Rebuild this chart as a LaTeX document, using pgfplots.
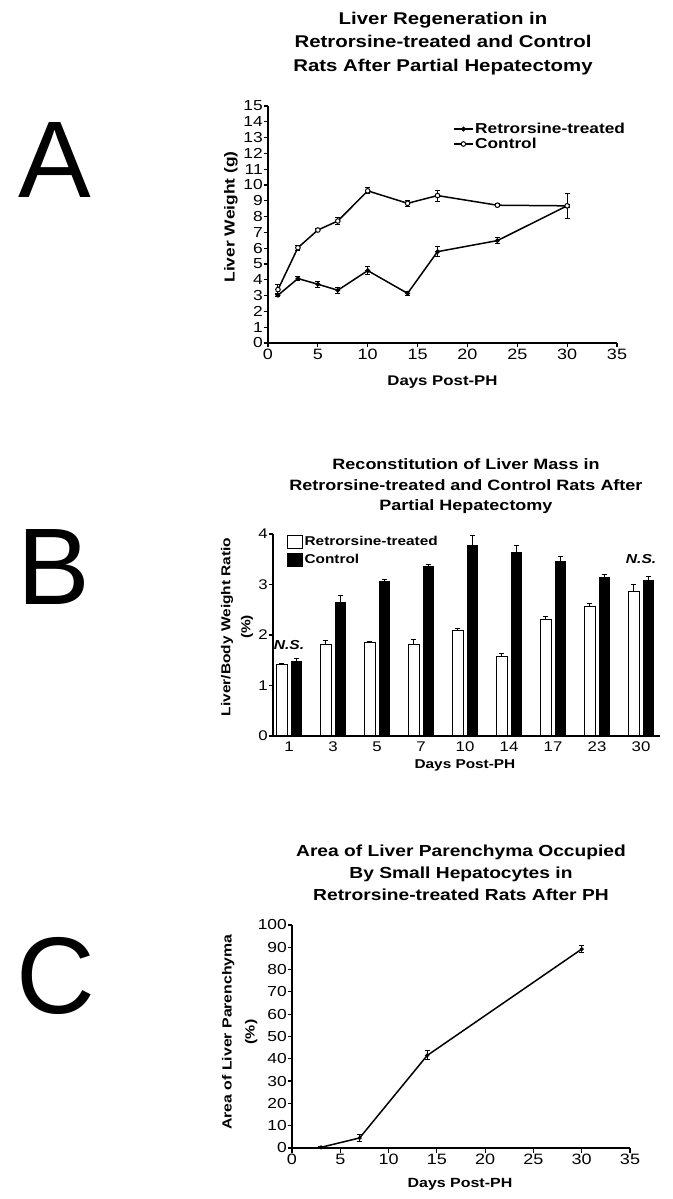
\documentclass[border=0pt]{standalone}
\usepackage{fontspec}
\setmainfont{Liberation Sans}[FakeStretch=1.2]
\newfontfamily\letterfont{Liberation Sans}
\usepackage{pgfplots}
\usepackage{pgfplotstable}
\pgfplotsset{compat=1.18}

\newcommand\fs[2][]{\fontsize{#2}{#2}\selectfont}

\pgfplotstableread{
x y e
1 3.02 0.10
3 4.08 0.10
5 3.72 0.20
7 3.34 0.20
10 4.58 0.25
14 3.14 0.15
17 5.78 0.30
23 6.48 0.20
30 8.68 0.80
}\retA
\pgfplotstableread{
x y e
1 3.38 0.30
3 6.03 0.15
5 7.15 0.08
7 7.72 0.20
10 9.63 0.20
14 8.84 0.20
17 9.33 0.35
23 8.72 0.10
30 8.68 0.10
}\conA
\pgfplotstableread{
x r re c ce
0 1.41 0.02 1.47 0.07
1 1.82 0.07 2.65 0.13
2 1.85 0.03 3.05 0.05
3 1.81 0.10 3.35 0.04
4 2.09 0.03 3.77 0.20
5 1.57 0.06 3.64 0.14
6 2.30 0.07 3.45 0.10
7 2.56 0.07 3.14 0.05
8 2.87 0.12 3.08 0.08
}\datB
\pgfplotstableread{
x y e
3 0.3 0.5
7 4.5 1.5
14 41.5 2.0
30 89.2 1.5
}\datC

\pgfplotsset{panel/.style={
  scale only axis, anchor=south west,
  axis lines=left, axis line style={-, line width=1.8pt},
  tick align=outside, major tick length=4.5pt,
  tick style={line width=1.2pt, black},
  /pgf/number format/assume math mode=true,
  xticklabel style={font=\fs{15}, inner sep=1pt},
  yticklabel style={font=\fs{14.5}, inner sep=0.5pt},
  clip=false,
  error bars/error bar style={line width=1pt},
  error bars/error mark options={rotate=90, line width=1pt, mark size=2.5pt},
}}

\begin{document}
\begin{tikzpicture}[x=1pt,y=1pt]
\useasboundingbox (0pt,0pt) rectangle (672pt,1199pt);
% panel letters
\node[font=\letterfont\fontsize{109}{109}\selectfont, inner sep=0pt] at (54.5pt,1039pt) {A};
\node[font=\letterfont\fontsize{109}{109}\selectfont, inner sep=0pt] at (54pt,632pt) {B};
\node[font=\letterfont\fontsize{109}{109}\selectfont, inner sep=0pt] at (56pt,223pt) {C};
% titles
\node[font=\bfseries\fontsize{17}{23.5}\selectfont, align=center] at (443pt,1155.5pt)
  {Liver Regeneration in\\Retrorsine-treated and Control\\Rats After Partial Hepatectomy};
\node[font=\bfseries\fontsize{15}{20.5}\selectfont, align=center] at (466pt,712.5pt)
  {Reconstitution of Liver Mass in\\Retrorsine-treated and Control Rats After\\Partial Hepatectomy};
\node[font=\bfseries\fontsize{16}{22}\selectfont, align=center] at (461pt,326.5pt)
  {Area of Liver Parenchyma Occupied\\By Small Hepatocytes in\\Retrorsine-treated Rats After PH};

% ---------- Panel A ----------
\begin{axis}[panel, at={(268pt,856pt)}, width=349pt, height=237pt,
  xmin=0, xmax=35, ymin=0, ymax=15,
  xtick={0,5,...,35}, ytick={0,1,...,15},
  xlabel={Days Post-PH}, ylabel={Liver Weight (g)},
  xlabel style={at={(axis description cs:0.5,-0.165)}, anchor=center, font=\bfseries\fs{14}},
  ylabel style={at={(axis description cs:-0.106,0.532)}, anchor=center, font=\bfseries\fs{14.5}},
  legend style={draw=none, fill=none, inner sep=0pt, row sep=0pt,
    at={(axis description cs:0.530,0.935)}, anchor=north west,
    font=\bfseries\fs{14.4}, nodes={inner sep=1.5pt}},
  legend cell align=left,
  legend image code/.code={\draw[#1, mark repeat=2, mark phase=2]
      plot coordinates {(0pt,0pt) (9.5pt,0pt) (19pt,0pt)};},
]
\addplot[black, line width=1.5pt, mark=*, mark size=1.6pt,
  error bars/.cd, y dir=both, y explicit]
  table[x=x, y=y, y error=e] {\retA};
\addlegendentry{Retrorsine-treated}
\addplot[black, line width=1.5pt, mark=*, mark size=2.3pt, mark options={fill=white, line width=1pt},
  error bars/.cd, y dir=both, y explicit]
  table[x=x, y=y, y error=e] {\conA};
\addlegendentry{Control}
\end{axis}

% ---------- Panel B ----------
\begin{axis}[panel, at={(273pt,463pt)}, width=387pt, height=202pt,
  xmin=-0.364, xmax=8.43, ymin=0, ymax=4,
  xtick={0,...,8}, xticklabels={1,3,5,7,10,14,17,23,30},
  x tick style={draw=none}, ytick={0,1,...,4},
  xticklabel style={font=\fs{14}}, yticklabel style={font=\fs{14}},
  ybar=4pt, bar width=10.5pt,
  xlabel={Days Post-PH}, ylabel={Liver/Body Weight Ratio\\(\%)},
  xlabel style={at={(axis description cs:0.496,-0.144)}, anchor=center, font=\bfseries\fs{12.8}},
  ylabel style={at={(axis description cs:-0.093,0.54)}, anchor=center, align=center,
    font=\bfseries\fontsize{12.9}{20}\selectfont},
  legend style={draw=none, fill=none, inner sep=0pt, row sep=4pt,
    at={(axis description cs:0.036,0.997)}, anchor=north west,
    font=\bfseries\fs{12.8}, nodes={inner sep=1.5pt}},
  legend cell align=left,
  legend image code/.code={\draw[#1, line width=1pt] (0pt,-6.5pt) rectangle (15pt,6.5pt);},
]
\addplot[draw=black, fill=white, line width=1pt,
  error bars/.cd, y dir=plus, y explicit]
  table[x=x, y=r, y error=re] {\datB};
\addlegendentry{Retrorsine-treated}
\addplot[draw=black, fill=black, line width=1pt,
  error bars/.cd, y dir=plus, y explicit]
  table[x=x, y=c, y error=ce] {\datB};
\addlegendentry{Control}
\node[font=\bfseries\itshape\fs{13}] at (axis cs:0,1.80) {N.S.};
\node[font=\bfseries\itshape\fs{13}] at (axis cs:8,3.50) {N.S.};
\end{axis}

% ---------- Panel C ----------
\begin{axis}[panel, at={(292pt,51pt)}, width=338pt, height=223pt,
  xmin=0, xmax=35, ymin=0, ymax=100,
  xtick={0,5,...,35}, ytick={0,10,...,100},
  xlabel={Days Post-PH}, ylabel={Area of Liver Parenchyma\\(\%)},
  xlabel style={at={(axis description cs:0.497,-0.161)}, anchor=center, font=\bfseries\fs{13.3}},
  ylabel style={at={(axis description cs:-0.155,0.52)}, anchor=center, align=center,
    font=\bfseries\fontsize{13.2}{23}\selectfont},
]
\addplot[black, line width=1.5pt, mark=*, mark size=1.2pt,
  error bars/.cd, y dir=both, y explicit]
  table[x=x, y=y, y error=e] {\datC};
\end{axis}
\end{tikzpicture}
\end{document}
